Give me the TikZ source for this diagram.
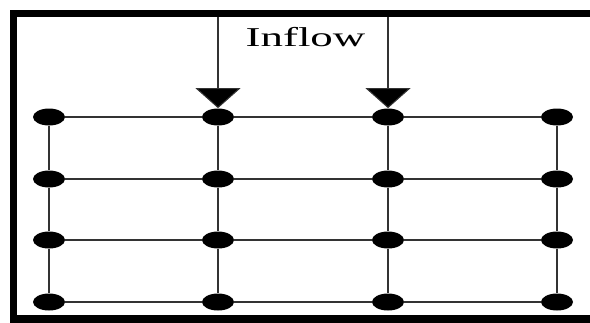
\documentclass[tikz,border=0pt]{standalone}
\usepackage{fontspec}
\setmainfont{Liberation Serif}
\usetikzlibrary{arrows.meta,shapes.geometric}
\tikzset{
	junction/.style={ellipse, fill=black, inner sep=0pt, minimum width=0.64cm, minimum height=0.34cm},
	pipe/.style={line width=0.6pt, black!80},
	wall/.style={line width=4pt},
	inflowarrow/.style={pipe, -{Triangle[width=0.9cm,length=0.4cm,fill=black]}}
}

\begin{document}
\begin{tikzpicture}[x=0.02cm, y=-0.02cm]
		%%%%% START %%%%%
		\useasboundingbox (0,0) rectangle (590,322);
		\begin{scope}
			\clip (0,0) rectangle (590,322);
			\draw[wall] (600,13.5) -| (13.5,319) -- (600,319);
		\end{scope}
		
		% junctions, row by row
		\foreach \c/\x in {1/49, 2/218, 3/388, 4/557}
			\foreach \r/\y in {1/117, 2/179, 3/240, 4/302}
				\node[junction] (j\r\c) at (\x,\y) {};
		
		% horizontal pipes
		\foreach \r in {1,2,3,4}
			\draw[pipe] (j\r1) -- (j\r2) -- (j\r3) -- (j\r4);
		% vertical pipes
		\foreach \c in {1,2,3,4}
			\draw[pipe] (j1\c) -- (j2\c) -- (j3\c) -- (j4\c);
		
		% inflow
		\coordinate (in2) at (218,17);
		\coordinate (in3) at (388,17);
		\draw[inflowarrow] (in2) -- (j12);
		\draw[inflowarrow] (in3) -- (j13);
		\node[anchor=base, inner sep=0pt] (inflow) at (305.5,46) {\fontsize{15.5}{18}\selectfont\scalebox{1.65}[1]{Inflow}};
		%%%%% END %%%%%
\end{tikzpicture}
\end{document}
